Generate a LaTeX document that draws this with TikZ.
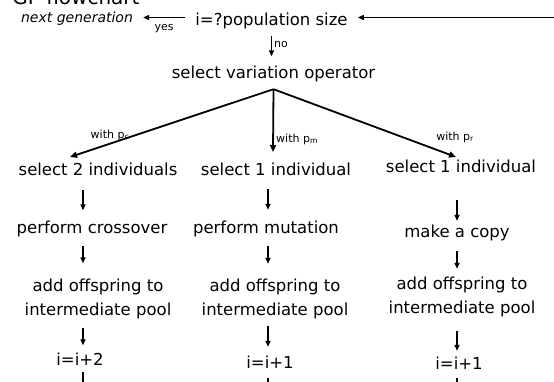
\documentclass[tikz,border=0pt]{standalone}
\usepackage{fontspec}
\setmainfont{DejaVu Sans}
\usetikzlibrary{arrows.meta,calc}

\begin{document}
\begin{tikzpicture}[x=1pt,y=-1pt,
  lbl/.style={inner sep=0pt, font=\fontsize{16.5}{24}\selectfont},
  one/.style={lbl, anchor=base, text height=12.5pt, text depth=4pt},
  two/.style={lbl, anchor=base, align=center},
  small/.style={inner sep=0pt, font=\fontsize{11}{13}\selectfont},
  arr/.style={line width=1.4pt, -{Triangle[length=6pt,width=5pt]}},
  fan/.style={line width=1.8pt, -{Triangle[length=7pt,width=6pt]}},
  tail/.style={line width=1.4pt},
]
\clip (0,0) rectangle (554,381);
\useasboundingbox (0,0) rectangle (554,381);

% title and loop test
\node[anchor=base, inner sep=0pt, font=\fontsize{20}{24}\selectfont] (title) at (76,4) {GP flowchart};
\node[anchor=base, inner sep=0pt, font=\fontsize{14}{16}\selectfont\itshape] (next) at (77,22) {next generation};
\node[one] (pop) at (271.5,25) {i=?population size};
\node[one] (var) at (273.5,78) {select variation operator};

% the three branches
\node[one] (s1) at (98,175) {select 2 individuals};
\node[one] (s2) at (276,175) {select 1 individual};
\node[one] (s3) at (461,172) {select 1 individual};

\node[one] (p1) at (92,233) {perform crossover};
\node[one] (p2) at (266,233) {perform mutation};
\node[one] (p3) at (457,237) {make a copy};

% two-line nodes sit on the baseline of their last line
\node[two] (a1) at (98,315) {add offspring to\\intermediate pool};
\node[two] (a2) at (275,315) {add offspring to\\intermediate pool};
\node[two] (a3) at (462,313) {add offspring to\\intermediate pool};

\node[one] (i1) at (80,365) {i=i+2};
\node[one] (i2) at (270,368) {i=i+1};
\node[one] (i3) at (459,369) {i=i+1};

% column positions of the vertical arrows
\coordinate (c1) at (83,0);
\coordinate (c2) at (268,0);
\coordinate (c3) at (457,0);
\coordinate (rowy) at (0,17.5);
\coordinate (edge) at (560,17.5);

% top row arrows
\draw[arr] (edge) -- ($(pop.east |- rowy)+(10,0)$);
\draw[arr] ($(pop.west |- rowy)+(-10,0)$) -- ($(next.east |- rowy)+(10,0)$)
  node[small, midway, below=6pt] (yes) {yes};
\draw[arr] ($(pop.south)+(0,7)$) -- ($(pop.center |- var.north)+(0,-9)$)
  node[small, pos=0.4, right=2pt] (no) {no};

% branching to the operators
\coordinate (apex) at ($(var.south)+(0,7)$);
\coordinate (tipL) at (70,157);
\coordinate (tipM) at (273,152);
\coordinate (tipR) at (456,157);
\draw[fan] (apex) -- (tipL);
\draw[fan] (apex) -- (tipM);
\draw[fan] (apex) -- (tipR);
\node[small] (wc) at (110,135) {with p\textsubscript{c}};
\node[small, anchor=west] (wm) at (276,139) {with p\textsubscript{m}};
\node[small] (wr) at (455,137) {with p\textsubscript{r}};

% crossover column
\draw[arr] ($(s1.south -| c1)+(0,11)$) -- ($(p1.north -| c1)+(0,-10)$);
\draw[arr] ($(p1.south -| c1)+(0,9)$) -- ($(a1.north -| c1)+(0,-15)$);
\draw[arr] ($(a1.south -| c1)+(0,9)$) -- ($(i1.north -| c1)+(0,-7)$);
\draw[tail] ($(i1.south -| c1)+(0,3)$) -- ++(0,20);

% mutation column
\draw[arr] ($(s2.south -| c2)+(0,10)$) -- ($(p2.north -| c2)+(0,-10.5)$);
\draw[arr] ($(p2.south -| c2)+(0,9)$) -- ($(a2.north -| c2)+(0,-14.5)$);
\draw[arr] ($(a2.south -| c2)+(0,7)$) -- ($(i2.north -| c2)+(0,-8.5)$);
\draw[tail] ($(i2.south -| c2)+(0,6)$) -- ++(0,20);

% copy column
\draw[arr] ($(s3.south -| c3)+(0,24)$) -- ($(p3.north -| c3)+(0,-3.5)$);
\draw[arr] ($(p3.south -| c3)+(0,10)$) -- ($(a3.north -| c3)+(0,-7.5)$);
\draw[arr] ($(a3.south -| c3)+(0,14)$) -- ($(i3.north -| c3)+(0,-5.5)$);
\draw[tail] ($(i3.south -| c3)+(0,5)$) -- ++(0,20);
\end{tikzpicture}
\end{document}
